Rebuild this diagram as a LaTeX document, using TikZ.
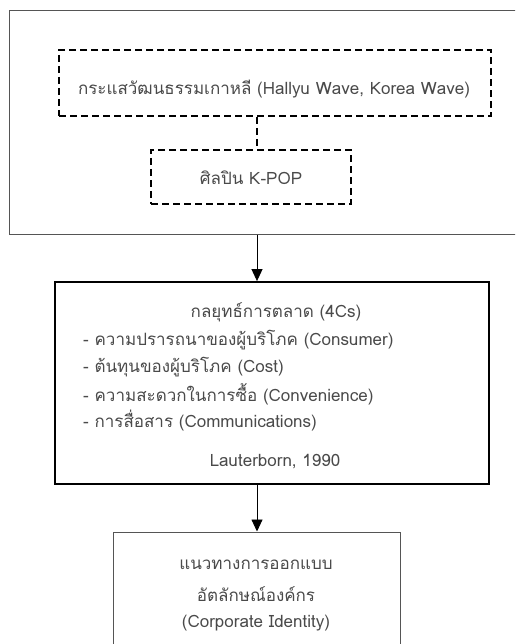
\documentclass[tikz,border=0pt]{standalone}
\usepackage{fontspec}
\setmainfont[Script=Thai]{Loma}
\usetikzlibrary{arrows.meta}
\definecolor{txt}{HTML}{4A4A4A}
\definecolor{thin}{HTML}{555555}
\begin{document}
\begin{tikzpicture}[x=1pt,y=-1pt,
  every node/.style={font=\fontsize{17}{19}\selectfont, text=txt, inner sep=0pt},
  boxthin/.style={draw=thin, line width=1pt, minimum width=#1},
  dashbox/.style={draw=black, line width=1.6pt, dash pattern=on 7pt off 4pt},
  boxthick/.style={draw=black, line width=1.8pt},
  arr/.style={draw=black, line width=0.9pt, -{Triangle[width=11pt,length=12pt]}},
  dashline/.style={draw=black, line width=1.6pt, dash pattern=on 7pt off 4pt}]
\useasboundingbox (0,0) rectangle (515,644);
\clip (0,0) rectangle (515,644);
\fill[white] (0,0) rectangle (515,644);
% outer box
\node[draw=thin, line width=1pt, minimum width=514pt, minimum height=223pt] (outer) at (266,122.5) {};
\node[dashbox, minimum width=432pt, minimum height=66pt] (wave) at (275,83) {};
\node (wavet) at (274,89) {กระแสวัฒนธรรมเกาหลี (Hallyu Wave, Korea Wave)};
\node[dashbox, minimum width=200pt, minimum height=54pt] (kpop) at (251,177) {};
\node (kpopt) at (251,178) {ศิลปิน K-POP};
\coordinate (axis) at (257,0);
\draw[dashline] (wave.south -| axis) -- (kpop.north -| axis);
% 4Cs box
\node[boxthick, minimum width=434pt, minimum height=202pt] (fourc) at (272,383) {};
\node (title) at (276,312) {กลยุทธ์การตลาด (4Cs)};
\node[anchor=west] (c1) at (83,340) {- ความปรารถนาของผู้บริโภค (Consumer)};
\node[anchor=west] (c2) at (83,367) {- ต้นทุนของผู้บริโภค (Cost)};
\node[anchor=west] (c3) at (83,394) {- ความสะดวกในการซื้อ (Convenience)};
\node[anchor=west] (c4) at (83,421) {- การสื่อสาร (Communications)};
\node (ref) at (275,462) {Lauterborn, 1990};
% CI box
\node[boxthin=287pt, minimum height=140pt] (ci) at (256.5,602) {};
\node (ci1) at (256,565) {แนวทางการออกแบบ};
\node (ci2) at (256,594) {อัตลักษณ์องค์กร};
\node (ci3) at (256,623) {(Corporate Identity)};
% arrows
\draw[arr] (outer.south -| axis) -- (fourc.north -| axis);
\draw[arr] (fourc.south -| axis) -- (ci.north -| axis);
\end{tikzpicture}
\end{document}
